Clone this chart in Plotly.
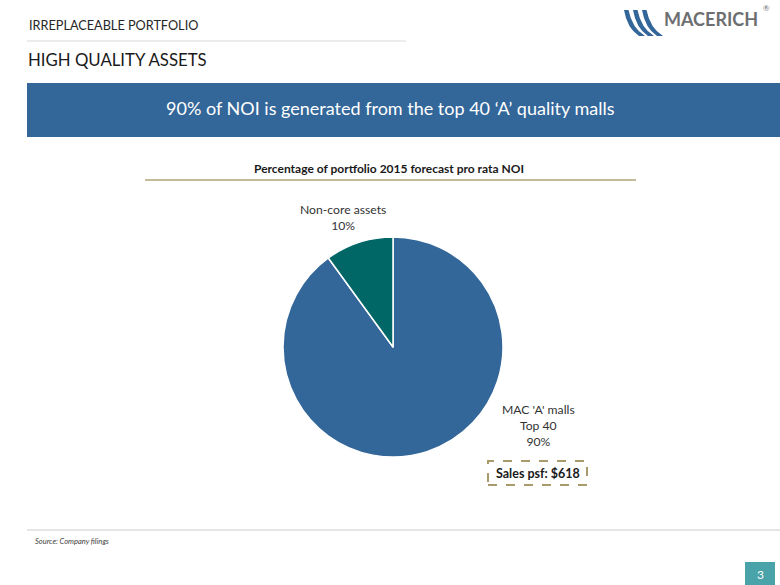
import plotly.graph_objects as go

W, H = 780, 585

labels = ["MAC 'A' malls Top 40", "Non-core assets"]
values = [90, 10]
colors = ["#336699", "#006666"]
label_texts = ["MAC 'A' malls<br>Top 40<br>90%", "Non-core assets<br>10%"]

FONT = "Lato, 'Open Sans', sans-serif"

def px(x):
    return x / W

def py(y):
    return 1 - y / H

fig = go.Figure()
fig.add_trace(go.Pie(
    labels=labels, values=values, sort=False, direction="clockwise",
    rotation=0, marker=dict(colors=colors, line=dict(color="white", width=1.5)),
    textinfo="none", hoverinfo="label+percent", showlegend=False,
    domain=dict(x=[px(283), px(503)], y=[py(457), py(237)]),
))

shapes = []
ann = []

# header texts
ann.append(dict(x=px(27), y=py(25), text="IRREPLACEABLE PORTFOLIO", xanchor="left", yanchor="middle",
                font=dict(size=12.7, color="#262626", family=FONT), showarrow=False))
shapes.append(dict(type="line", x0=px(27), x1=px(406), y0=py(41), y1=py(41), xref="paper", yref="paper",
                   line=dict(color="#d9d9d9", width=1)))
ann.append(dict(x=px(26), y=py(60), text="HIGH QUALITY ASSETS", xanchor="left", yanchor="middle",
                font=dict(size=16.8, color="#1a1a1a", family=FONT), showarrow=False))

# logo
stripe_color = "#336699"
for dx in [0, 9, 18]:
    x0 = 624 + dx
    path = (f"M {px(x0)} {py(10)} L {px(x0+4.5)} {py(10)} "
            f"Q {px(x0+8)} {py(28)} {px(x0+21)} {py(36)} "
            f"L {px(x0+15)} {py(36)} Q {px(x0+3)} {py(28)} {px(x0)} {py(10)} Z")
    shapes.append(dict(type="path", path=path, xref="paper", yref="paper",
                       fillcolor=stripe_color, line=dict(width=0)))
ann.append(dict(x=px(662), y=py(19), text="<b>MACERICH</b>", xanchor="left", yanchor="middle",
                font=dict(size=18, color="#6d6e70", family=FONT), showarrow=False))
ann.append(dict(x=px(766), y=py(8), text="®", xanchor="center", yanchor="middle",
                font=dict(size=8, color="#6d6e70", family=FONT), showarrow=False))

# blue banner
shapes.append(dict(type="rect", x0=px(27), x1=px(780), y0=py(137), y1=py(83), xref="paper", yref="paper",
                   fillcolor="#336699", line=dict(width=0)))
ann.append(dict(x=px(390), y=py(108), text="90% of NOI is generated from the top 40 ‘A’ quality malls",
                xanchor="center", yanchor="middle",
                font=dict(size=18, color="white", family=FONT), showarrow=False))

# chart title
ann.append(dict(x=px(389), y=py(168), text="<b>Percentage of portfolio 2015 forecast pro rata NOI</b>",
                xanchor="center", yanchor="middle",
                font=dict(size=12, color="#1a1a1a", family=FONT), showarrow=False))
shapes.append(dict(type="line", x0=px(145), x1=px(636), y0=py(180), y1=py(180), xref="paper", yref="paper",
                   line=dict(color="#b0a577", width=1.5)))

# slice labels
ann.append(dict(x=px(343), y=py(217), text=label_texts[1], xanchor="center", yanchor="middle",
                font=dict(size=12.2, color="#333333", family=FONT), showarrow=False))
ann.append(dict(x=px(538), y=py(425), text=label_texts[0], xanchor="center", yanchor="middle",
                font=dict(size=12.2, color="#333333", family=FONT), showarrow=False))

# dashed box
shapes.append(dict(type="rect", x0=px(488), x1=px(587), y0=py(485), y1=py(461), xref="paper", yref="paper",
                   line=dict(color="#a89a6a", width=2, dash="dash"), fillcolor="rgba(0,0,0,0)"))
ann.append(dict(x=px(537.5), y=py(473), text="<b>Sales psf: $618</b>", xanchor="center", yanchor="middle",
                font=dict(size=12.5, color="#1a1a1a", family=FONT), showarrow=False))

# footer
shapes.append(dict(type="line", x0=px(27), x1=px(780), y0=py(530), y1=py(530), xref="paper", yref="paper",
                   line=dict(color="#cccccc", width=1)))
ann.append(dict(x=px(33), y=py(541), text="<i>Source: Company filings</i>", xanchor="left", yanchor="middle",
                font=dict(size=7.5, color="#404040", family=FONT), showarrow=False))
shapes.append(dict(type="rect", x0=px(745), x1=px(775), y0=py(585), y1=py(562), xref="paper", yref="paper",
                   fillcolor="#4aa3a8", line=dict(width=0)))
ann.append(dict(x=px(760), y=py(574), text="3", xanchor="center", yanchor="middle",
                font=dict(size=12, color="white", family=FONT), showarrow=False))

fig.update_layout(
    width=W, height=H, margin=dict(l=0, r=0, t=0, b=0),
    paper_bgcolor="white", plot_bgcolor="white",
    shapes=shapes, annotations=ann,
)

fig.write_html("out.html", config={"displayModeBar": False},
               post_script="document.body.style.margin='0';document.body.style.overflow='hidden';")
